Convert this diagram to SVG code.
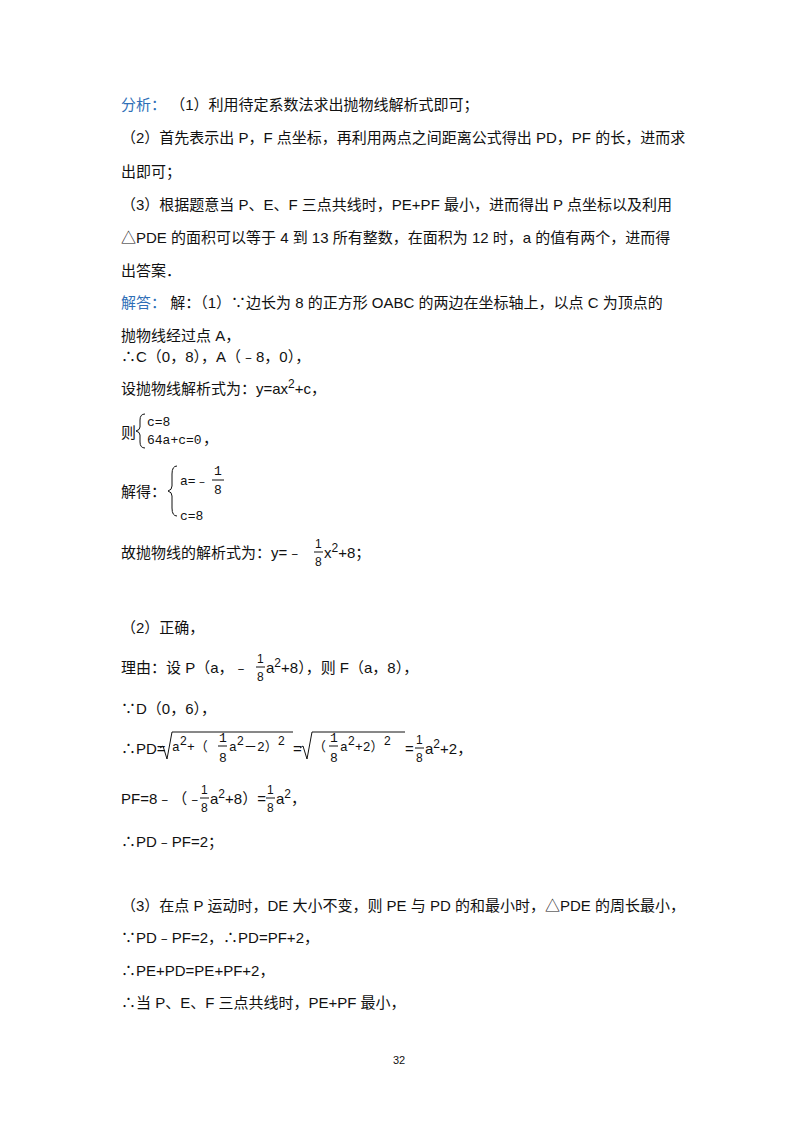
<svg xmlns="http://www.w3.org/2000/svg" width="800" height="1132" viewBox="0 0 800 1132">
<style>
text{font-family:"Liberation Sans","Noto Sans CJK SC",sans-serif;font-size:15px;fill:#111}
.b{fill:#2f6fb7}
.s{font-size:12px}
.m{font-family:"Liberation Mono","Noto Sans CJK SC",monospace;font-size:13px}
.ln{stroke:#111;stroke-width:1;fill:none}
</style>
<rect width="800" height="1132" fill="#fff"/>
<g id="text">
<text x="121" y="110"><tspan class="b">分析：</tspan>  （1）利用待定系数法求出抛物线解析式即可；</text>
<text x="121" y="143">（2）首先表示出 P，F 点坐标，再利用两点之间距离公式得出 PD，PF 的长，进而求</text>
<text x="121" y="177">出即可；</text>
<text x="121" y="210">（3）根据题意当 P、E、F 三点共线时，PE+PF 最小，进而得出 P 点坐标以及利用</text>
<text x="121" y="243">△PDE 的面积可以等于 4 到 13 所有整数，在面积为 12 时，a 的值有两个，进而得</text>
<text x="121" y="276">出答案．</text>
<text x="121" y="308"><tspan class="b">解答：</tspan>  解：（1）∵边长为 8 的正方形 OABC 的两边在坐标轴上，以点 C 为顶点的</text>
<text x="121" y="341">抛物线经过点 A，</text>
<text x="121" y="362">∴C（0，8），A（﹣8，0），</text>
<text x="121" y="394">设抛物线解析式为：y=ax<tspan class="s" dy="-6">2</tspan><tspan dy="6">+c，</tspan></text>
<text x="121" y="438">则</text>
<path class="ln" d="M145,414 q-5,0 -5,6 v7 q0,3 -4,4 q4,1 4,4 v7 q0,6 5,6"/>
<text class="m" x="147" y="426">c=8</text>
<text class="m" x="147" y="444">64a+c=0</text><text x="203" y="444">，</text>
<text x="121" y="497">解得：</text>
<path class="ln" d="M177,466 q-5,0 -5,8 v12 q0,4 -4,5 q4,1 4,5 v12 q0,8 5,8"/>
<text class="m" x="180" y="485">a=﹣</text>
<text class="m" x="214" y="475">1</text><line class="ln" x1="212" y1="480" x2="224" y2="480"/><text class="m" x="214" y="494">8</text>
<text class="m" x="180" y="520">c=8</text>
<text x="121" y="558">故抛物线的解析式为：y=﹣</text>
<text class="s" x="315" y="548">1</text><line class="ln" x1="314" y1="552" x2="323" y2="552"/><text class="s" x="315" y="566">8</text>
<text x="324" y="558">x<tspan class="s" dy="-6">2</tspan><tspan dy="6">+8；</tspan></text>
<text x="121" y="633">（2）正确，</text>
<text x="121" y="673">理由：设 P（a，﹣</text>
<text class="s" x="257" y="663">1</text><line class="ln" x1="256" y1="667" x2="265" y2="667"/><text class="s" x="257" y="681">8</text>
<text x="266" y="673">a<tspan class="s" dy="-6">2</tspan><tspan dy="6">+8），则 F（a，8），</tspan></text>
<text x="121" y="714">∵D（0，6），</text>
<text x="121" y="754">∴PD=</text>
<path class="ln" d="M160,748 l3,-2 l4,13 l5,-27 h121"/>
<text class="m" x="172" y="751">a<tspan dy="-6" class="s">2</tspan><tspan dy="6">+（</tspan></text>
<text class="m" x="219" y="742">1</text><line class="ln" x1="218" y1="746" x2="227" y2="746"/><text class="m" x="219" y="762">8</text>
<text class="m" x="229" y="751">a<tspan dy="-6" class="s">2</tspan><tspan dy="6">－2）</tspan><tspan dy="-6" class="s">2</tspan></text>
<text x="293" y="754">=</text>
<path class="ln" d="M300,748 l3,-2 l4,13 l5,-27 h93"/>
<text class="m" x="313" y="751">（</text>
<text class="m" x="330" y="742">1</text><line class="ln" x1="329" y1="746" x2="338" y2="746"/><text class="m" x="330" y="762">8</text>
<text class="m" x="340" y="751">a<tspan dy="-6" class="s">2</tspan><tspan dy="6">+2）</tspan><tspan dy="-6" class="s">2</tspan></text>
<text x="405" y="754">=</text>
<text class="s" x="416" y="744">1</text><line class="ln" x1="415" y1="748" x2="424" y2="748"/><text class="s" x="416" y="762">8</text>
<text x="425" y="754">a<tspan class="s" dy="-6">2</tspan><tspan dy="6">+2，</tspan></text>
<text x="121" y="804">PF=8﹣（﹣</text>
<text class="s" x="201" y="794">1</text><line class="ln" x1="200" y1="798" x2="209" y2="798"/><text class="s" x="201" y="812">8</text>
<text x="210" y="804">a<tspan class="s" dy="-6">2</tspan><tspan dy="6">+8）=</tspan></text>
<text class="s" x="267" y="794">1</text><line class="ln" x1="266" y1="798" x2="275" y2="798"/><text class="s" x="267" y="812">8</text>
<text x="276" y="804">a<tspan class="s" dy="-6">2</tspan><tspan dy="6">，</tspan></text>
<text x="121" y="847">∴PD﹣PF=2；</text>
<text x="121" y="911">（3）在点 P 运动时，DE 大小不变，则 PE 与 PD 的和最小时，△PDE 的周长最小，</text>
<text x="121" y="943">∵PD﹣PF=2，∴PD=PF+2，</text>
<text x="121" y="976">∴PE+PD=PE+PF+2，</text>
<text x="121" y="1008">∴当 P、E、F 三点共线时，PE+PF 最小，</text>
<text x="393" y="1064" style="font-size:11px">32</text>
</g>
</svg>
